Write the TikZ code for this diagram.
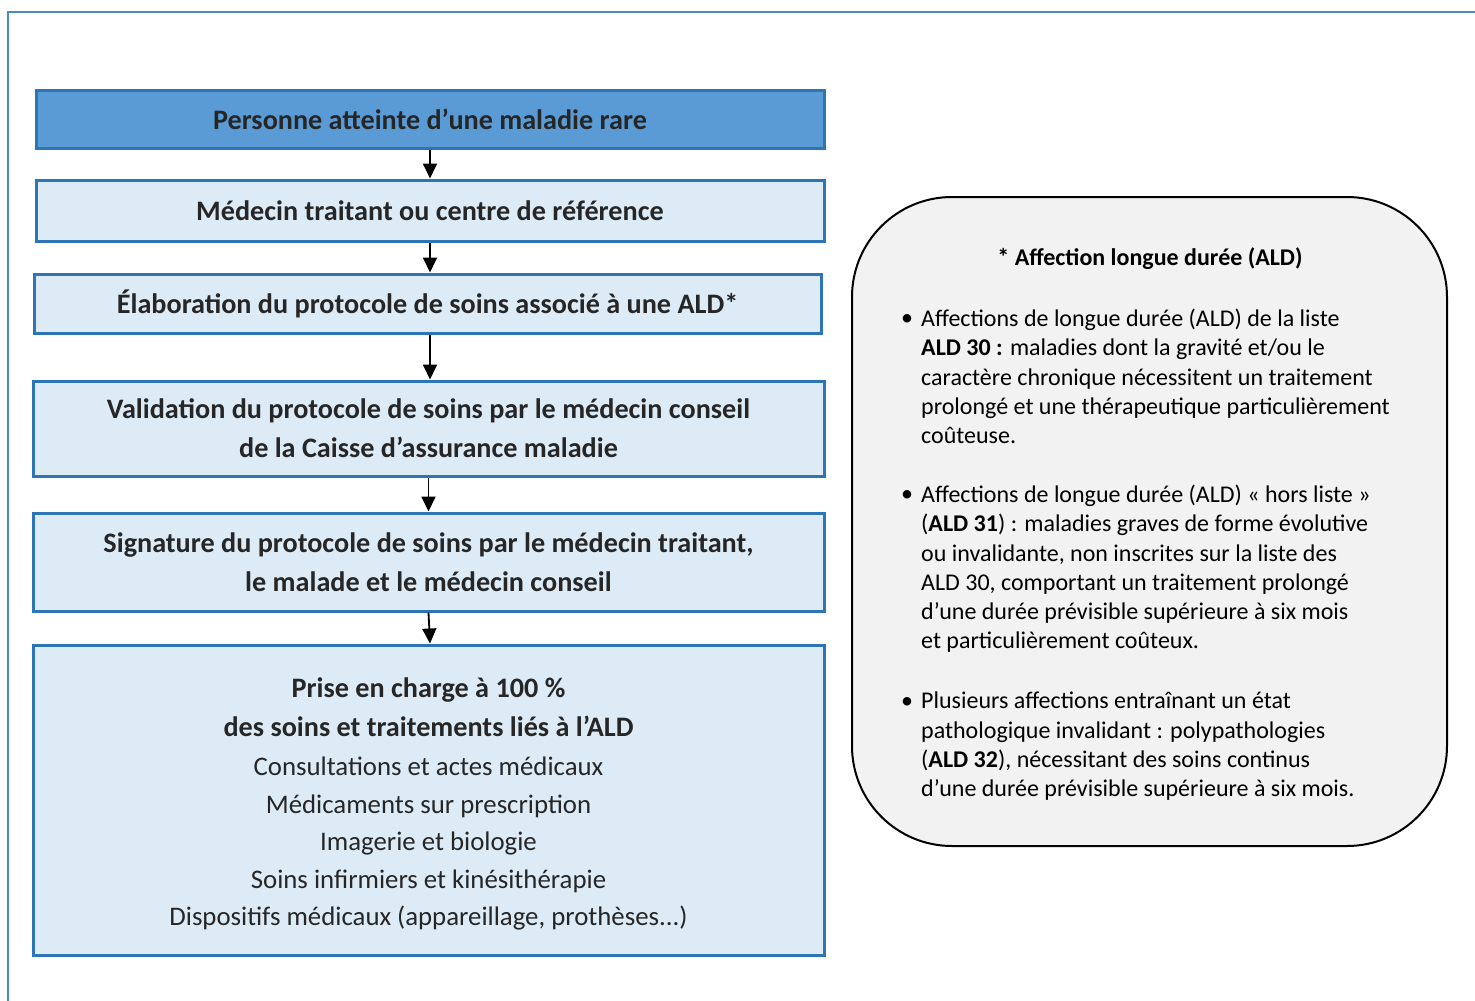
\documentclass[tikz,border=0pt]{standalone}
\usepackage{fontspec}
\setmainfont{Carlito}
\usetikzlibrary{arrows.meta}
\definecolor{frameblue}{HTML}{2E75B6}
\definecolor{darkfill}{HTML}{5B9BD5}
\definecolor{lightfill}{HTML}{DDEBF7}
\definecolor{greyfill}{HTML}{F2F2F2}
\definecolor{txt}{HTML}{262626}
\newcommand\reglin{\fontsize{26.8}{37.5}\selectfont\mdseries}
\tikzset{
  stepbox/.style={draw=frameblue, line width=3pt, fill=lightfill, minimum width=788pt, inner sep=0pt, align=center, text=txt, font=\fontsize{28.2}{39}\selectfont\bfseries},
  arr/.style={line width=1.8pt, -{Triangle[width=14pt,length=15pt]}},
  para/.style={anchor=north west, align=left, inner sep=0pt, text=black, font=\fontsize{24}{29.2}\selectfont},
  bul/.style={anchor=base, inner sep=0pt, font=\fontsize{24}{29}\selectfont}
}
\begin{document}
\begin{tikzpicture}[x=1pt,y=-1pt]
\useasboundingbox (0,0) rectangle (1475,1001);
\draw[frameblue!85!white, line width=2pt] (8,1001) -- (8,12) -- (1475,12);
\node[stepbox, fill=darkfill, minimum height=58pt] (b1) at (430,119) {Personne atteinte d’une maladie rare};
\node[stepbox, minimum height=61pt] (b2) at (430,210.5) {Médecin traitant ou centre de référence};
\node[stepbox, minimum width=787pt, minimum height=59pt] (b3) at (427.5,303.5) {Élaboration du protocole de soins associé à une ALD*};
\node[stepbox, minimum width=791pt, minimum height=95pt] (b4) at (428.5,428.5) {Validation du protocole de soins par le médecin conseil\\de la Caisse d’assurance maladie};
\node[stepbox, minimum width=791pt, minimum height=98pt] (b5) at (428.5,562) {Signature du protocole de soins par le médecin traitant,\\le malade et le médecin conseil};
\node[stepbox, minimum width=791pt, minimum height=310pt] (b6) at (428.5,800) {};
\node[inner sep=0pt, align=center, text=txt, font=\fontsize{28.2}{39}\selectfont\bfseries] (b6t) at (428.5,804) {Prise en charge à 100 \%\\des soins et traitements liés à l’ALD\\\reglin Consultations et actes médicaux\\[-1.5pt]\reglin Médicaments sur prescription\\[-1.5pt]\reglin Imagerie et biologie\\[-1.5pt]\reglin Soins infirmiers et kinésithérapie\\[-1.5pt]\reglin Dispositifs médicaux (appareillage, prothèses...)};
\draw[arr] (b1.south) -- (b1.south |- b2.north);
\draw[arr] (b2.south) -- (b2.south |- b3.north);
\draw[arr] ([xshift=2.5pt]b3.south) -- ([xshift=2.5pt]b3.south |- b4.north);
\draw[arr] (b4.south) -- (b4.south |- b5.north);
\draw[arr] (b5.south) -- ([xshift=1.5pt]b6.north);
\node[draw=black, line width=2pt, fill=greyfill, rounded corners=100pt, minimum width=595pt, minimum height=649pt, inner sep=0pt] (ald) at (1149.5,521.5) {};
\node[anchor=base, inner sep=0pt, font=\fontsize{24}{29}\selectfont\bfseries] (title) at (1150,265) {* Affection longue durée (ALD)};
\node[bul] (u1) at (907,325) {•};
\node[para] (p1) at (921,309) {Affections de longue durée (ALD) de la liste\\\textbf{ALD 30 :} maladies dont la gravité et/ou le\\caractère chronique nécessitent un traitement\\prolongé et une thérapeutique particulièrement\\coûteuse.};
\node[bul] (u2) at (907,501) {•};
\node[para] (p2) at (921,485) {Affections de longue durée (ALD) « hors liste »\\(\textbf{ALD 31}) : maladies graves de forme évolutive\\ou invalidante, non inscrites sur la liste des\\ALD 30, comportant un traitement prolongé\\d’une durée prévisible supérieure à six mois\\et particulièrement coûteux.};
\node[bul] (u3) at (907,708) {•};
\node[para] (p3) at (921,692) {Plusieurs affections entraînant un état\\pathologique invalidant : polypathologies\\(\textbf{ALD 32}), nécessitant des soins continus\\d'une durée prévisible supérieure à six mois.};
\end{tikzpicture}
\end{document}
